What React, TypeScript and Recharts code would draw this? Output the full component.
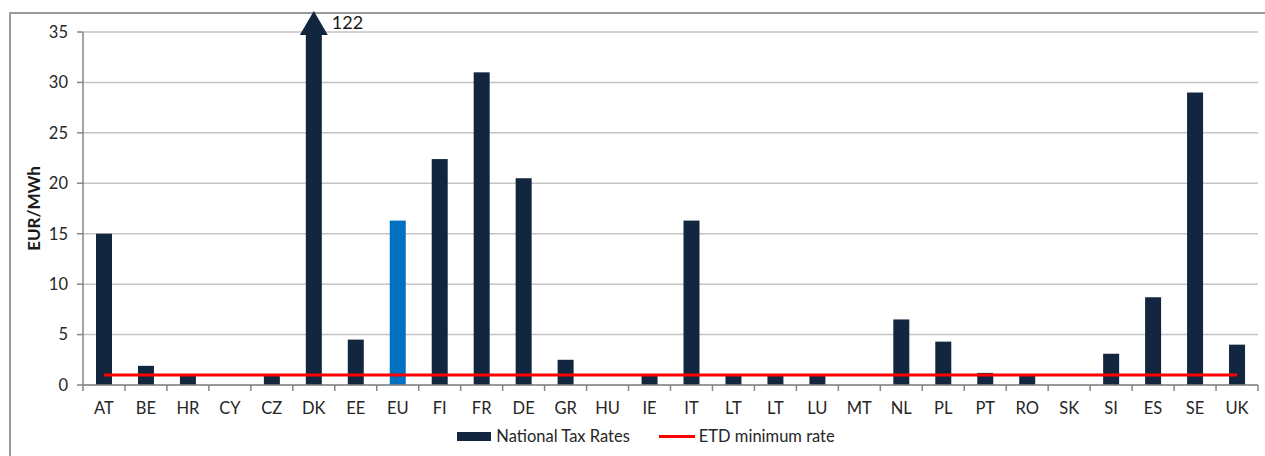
import React from 'react';
import { ComposedChart, Bar, Line, XAxis, YAxis, CartesianGrid, Legend, Cell } from 'recharts';

const categories = ['AT', 'BE', 'HR', 'CY', 'CZ', 'DK', 'EE', 'EU', 'FI', 'FR', 'DE', 'GR', 'HU', 'IE', 'IT', 'LT', 'LT', 'LU', 'MT', 'NL', 'PL', 'PT', 'RO', 'SK', 'SI', 'ES', 'SE', 'UK'];
const nationalTaxRates = [15.0, 1.9, 1.0, 0, 1.0, 122, 4.5, 16.3, 22.4, 31.0, 20.5, 2.5, 0, 1.0, 16.3, 1.0, 1.0, 1.0, 0, 6.5, 4.3, 1.2, 1.0, 0, 3.1, 8.7, 29.0, 4.0];
const etdMinimumRate = [1, 1, 1, 1, 1, 1, 1, 1, 1, 1, 1, 1, 1, 1, 1, 1, 1, 1, 1, 1, 1, 1, 1, 1, 1, 1, 1, 1];
const yTicks = [0, 5, 10, 15, 20, 25, 30, 35];
const highlightedCategory = 'EU';
const AXIS_MAX = 35;

const BAR_COLOR = '#13263F';
const HIGHLIGHT_COLOR = '#0070C0';
const LINE_COLOR = '#FF0000';
const AXIS_COLOR = '#868686';
const FONT = 'Lato, "Noto Sans", sans-serif';
const TICK_SIZE = 16.5;

const data = categories.map((c, i) => ({
  country: c,
  rate: nationalTaxRates[i],
  shown: Math.min(nationalTaxRates[i], AXIS_MAX),
  etd: etdMinimumRate[i],
}));

const BarShape = (props: any) => {
  const { x, y, width, height, fill, payload } = props;
  if (payload && payload.rate > AXIS_MAX) {
    const cx = x + width / 2;
    return (
      <g>
        <rect x={x} y={y + 2} width={width} height={Math.max(0, height - 2)} fill={fill} />
        <polygon points={`${cx},${y - 21} ${cx - 14},${y + 3} ${cx + 14},${y + 3}`} fill={fill} />
        <text x={cx + 18} y={y - 3} fontSize={18} fontFamily={FONT} fill="#1a1a1a">
          {payload.rate}
        </text>
      </g>
    );
  }
  return <rect x={x} y={y} width={width} height={height} fill={fill} />;
};

const XTick = (props: any) => {
  const { x, y, payload, index } = props;
  const half = payload.offset || 0;
  return (
    <g>
      <line x1={x - half} x2={x - half} y1={y} y2={y + 6} stroke={AXIS_COLOR} strokeWidth={1.5} />
      {index === categories.length - 1 && (
        <line x1={x + half} x2={x + half} y1={y} y2={y + 6} stroke={AXIS_COLOR} strokeWidth={1.5} />
      )}
      <text x={x} y={y + 29} textAnchor="middle" fontSize={TICK_SIZE} fontFamily={FONT} fill="#262626">
        {payload.value}
      </text>
    </g>
  );
};

const YLabel = (props: any) => {
  const vb = props.viewBox || { x: 0, y: 32, width: 83, height: 353 };
  const cx = vb.x + 33;
  const cy = vb.y + vb.height / 2;
  return (
    <text
      x={cx}
      y={cy}
      transform={`rotate(-90 ${cx} ${cy})`}
      textAnchor="middle"
      dominantBaseline="central"
      fontSize={17}
      fontWeight="bold"
      fontFamily={FONT}
      fill="#1a1a1a"
    >
      EUR/MWh
    </text>
  );
};

const LegendContent = (props: any) => {
  const payload = [...(props.payload || [])].sort((a: any, b: any) =>
    (a.type === 'line' ? 1 : 0) - (b.type === 'line' ? 1 : 0)
  );
  return (
    <div
      style={{
        display: 'flex',
        justifyContent: 'center',
        alignItems: 'center',
        paddingLeft: 27,
        fontFamily: FONT,
        fontSize: TICK_SIZE,
        color: '#262626',
        height: 24,
      }}
    >
      {payload.map((p: any, i: number) => (
        <div key={i} style={{ display: 'flex', alignItems: 'center', marginLeft: i === 0 ? 0 : 29 }}>
          {p.type === 'line' ? (
            <div style={{ width: 36, height: 3, background: p.color, marginRight: 4 }} />
          ) : (
            <div style={{ width: 34, height: 9, background: p.color, marginRight: 5 }} />
          )}
          <span>{p.value}</span>
        </div>
      ))}
    </div>
  );
};

export default function App() {
  return (
    <div style={{ position: 'absolute', left: 0, top: 0, width: 1265, height: 456, overflow: 'hidden', background: '#fff' }}>
      <div
        style={{
          position: 'absolute',
          left: 9,
          top: 12,
          width: 1400,
          height: 600,
          border: '2px solid #9a9a9a',
          boxSizing: 'border-box',
        }}
      />
      <div style={{ position: 'absolute', left: 0, top: 0 }}>
        <ComposedChart width={1265} height={456} data={data} margin={{ top: 32, right: 7, left: 0, bottom: 0 }} barSize={16}>
          <CartesianGrid vertical={false} stroke="#c4c4c4" strokeWidth={1.5} />
          <XAxis
            dataKey="country"
            height={71}
            tick={<XTick />}
            tickLine={false}
            tickSize={0}
            tickMargin={0}
            interval={0}
            axisLine={{ stroke: AXIS_COLOR, strokeWidth: 1.5 }}
          />
          <YAxis
            width={83}
            domain={[0, AXIS_MAX]}
            ticks={yTicks}
            tickSize={6}
            tickMargin={9}
            tick={{ fontSize: TICK_SIZE, fontFamily: FONT, fill: '#262626' }}
            tickLine={{ stroke: AXIS_COLOR, strokeWidth: 1.5 }}
            axisLine={{ stroke: AXIS_COLOR, strokeWidth: 1.5 }}
            label={<YLabel />}
          />
          <Legend
            verticalAlign="middle"
            layout="horizontal"
            wrapperStyle={{ position: 'absolute', top: 424, left: 0, width: 1265 }}
            content={<LegendContent />}
          />
          <Bar dataKey="shown" name="National Tax Rates" fill={BAR_COLOR} shape={<BarShape />} isAnimationActive={false} legendType="rect">
            {data.map((d, i) => (
              <Cell key={i} fill={d.country === highlightedCategory ? HIGHLIGHT_COLOR : BAR_COLOR} />
            ))}
          </Bar>
          <Line
            dataKey="etd"
            name="ETD minimum rate"
            type="linear"
            stroke={LINE_COLOR}
            strokeWidth={3}
            dot={false}
            activeDot={false}
            isAnimationActive={false}
            legendType="line"
          />
        </ComposedChart>
      </div>
    </div>
  );
}
